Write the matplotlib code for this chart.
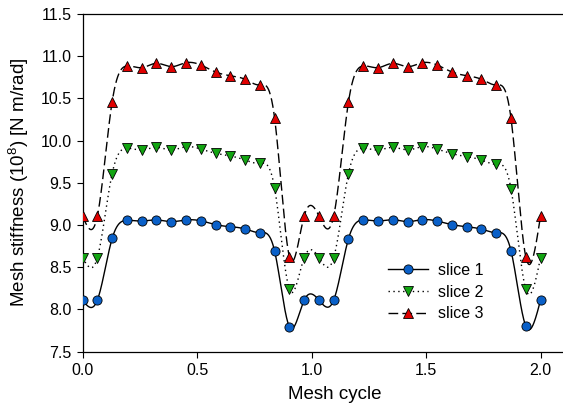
import numpy as np
import matplotlib
matplotlib.use("Agg")
import matplotlib.pyplot as plt
from matplotlib.lines import Line2D

plt.rcParams["font.family"] = ["Liberation Sans", "DejaVu Sans"]
plt.rcParams["mathtext.fontset"] = "custom"
plt.rcParams["mathtext.rm"] = "Liberation Sans"

# 32 samples over two mesh cycles
n_pts = 32
cycle = np.linspace(0.0, 2.0, n_pts)

slice1 = [8.11, 8.11, 8.84, 9.055, 9.047, 9.06, 9.04, 9.06, 9.05, 9.004,
          8.98, 8.953, 8.91, 8.69, 7.795, 8.11, 8.11, 8.11, 8.838, 9.06,
          9.047, 9.063, 9.04, 9.063, 9.047, 9.004, 8.98, 8.95, 8.91, 8.695,
          7.803, 8.11]
slice2 = [8.613, 8.613, 9.61, 9.909, 9.889, 9.92, 9.889, 9.928, 9.90, 9.85,
          9.818, 9.77, 9.73, 9.435, 8.238, 8.613, 8.613, 8.613, 9.61, 9.909,
          9.889, 9.92, 9.889, 9.928, 9.90, 9.845, 9.81, 9.77, 9.72, 9.43,
          8.24, 8.613]
slice3 = [9.107, 9.107, 10.46, 10.884, 10.864, 10.916, 10.876, 10.923, 10.896,
          10.813, 10.769, 10.726, 10.659, 10.264, 8.625, 9.107, 9.107, 9.107,
          10.46, 10.884, 10.864, 10.916, 10.876, 10.923, 10.896, 10.813,
          10.769, 10.726, 10.659, 10.264, 8.625, 9.107]

series_labels = ["slice 1", "slice 2", "slice 3"]
xticks = [0.0, 0.5, 1.0, 1.5, 2.0]
yticks = [7.5, 8.0, 8.5, 9.0, 9.5, 10.0, 10.5, 11.0, 11.5]


def natural_spline(x, y, xs):
    """Natural cubic spline through (x, y), evaluated at xs."""
    x = np.asarray(x, float)
    y = np.asarray(y, float)
    n = len(x)
    h = np.diff(x)
    A = np.zeros((n, n))
    b = np.zeros(n)
    A[0, 0] = A[-1, -1] = 1.0
    for i in range(1, n - 1):
        A[i, i - 1] = h[i - 1]
        A[i, i] = 2 * (h[i - 1] + h[i])
        A[i, i + 1] = h[i]
        b[i] = 6 * ((y[i + 1] - y[i]) / h[i] - (y[i] - y[i - 1]) / h[i - 1])
    m = np.linalg.solve(A, b)
    idx = np.clip(np.searchsorted(x, xs) - 1, 0, n - 2)
    x0, x1 = x[idx], x[idx + 1]
    hi = x1 - x0
    t0, t1 = x1 - xs, xs - x0
    return (m[idx] * t0 ** 3 / (6 * hi) + m[idx + 1] * t1 ** 3 / (6 * hi)
            + (y[idx] / hi - m[idx] * hi / 6) * t0
            + (y[idx + 1] / hi - m[idx + 1] * hi / 6) * t1)


fig = plt.figure(figsize=(5.63, 4.13), dpi=100)
ax = fig.add_axes([0.1467, 0.1487, 0.4067 * 2.2, 0.9661 - 0.1487])

styles = [
    dict(ls="-", marker="o", mfc="#0a60c8"),
    dict(ls=(0, (1, 2.5)), marker="v", mfc="#12a512"),
    dict(ls=(0, (7, 3)), marker="^", mfc="#e00000"),
]
lw, ms = 1.0, 6.6
xs = np.linspace(cycle[0], cycle[-1], 1200)
handles = []
for vals, st, lab in zip([slice1, slice2, slice3], styles, series_labels):
    ax.plot(xs, natural_spline(cycle, vals, xs), color="black",
            ls=st["ls"], lw=lw, zorder=2)
    ax.plot(cycle, vals, ls="none", marker=st["marker"], ms=ms,
            mfc=st["mfc"], mec="black", mew=0.6, zorder=3)
    handles.append(Line2D([], [], color="black", ls=st["ls"], lw=lw,
                          marker=st["marker"], ms=ms, mfc=st["mfc"],
                          mec="black", mew=0.6))

ax.set_xlim(0, 2.2)
ax.set_ylim(7.5, 11.5)
ax.set_xticks(xticks)
ax.set_yticks(yticks)
ax.set_xticklabels([f"{v:.1f}" for v in xticks])
ax.set_yticklabels([f"{v:.1f}" for v in yticks])
ax.tick_params(direction="out", length=4, width=0.8, labelsize=11.5, pad=4)
for s in ax.spines.values():
    s.set_linewidth(0.9)
ax.spines["right"].set_visible(False)

ax.set_xlabel("Mesh cycle", fontsize=13.5, labelpad=6)
ax.set_ylabel(r"Mesh stiffness (10$^{8}$) [N m/rad]", fontsize=13.5, labelpad=7)

fig.legend(handles, series_labels, loc="upper left",
           bbox_to_anchor=(388 / 563, 1 - 263 / 413), frameon=False,
           fontsize=11.5, handlelength=2.5, handletextpad=0.6,
           labelspacing=0.42, borderpad=0, borderaxespad=0)

fig.savefig("out.png", dpi=100)
